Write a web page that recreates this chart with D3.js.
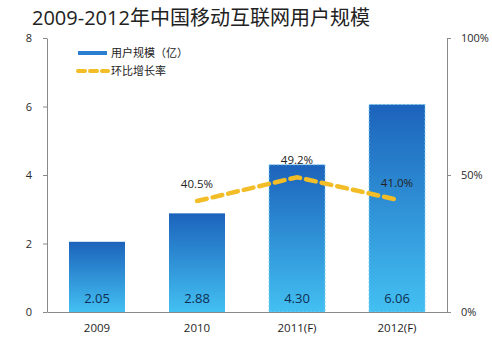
<!DOCTYPE html>
<html>
<head>
<meta charset="utf-8">
<script src="https://d3js.org/d3.v7.min.js"></script>
<style>
  body { margin: 0; background: #fff; }
  text { font-family: "Open Sans", "Noto Sans CJK SC", sans-serif; }
</style>
</head>
<body>
<div id="chart"></div>
<script>
var years = ["2009", "2010", "2011(F)", "2012(F)"];
var users = [2.05, 2.88, 4.30, 6.06];           // 亿
var growth = [null, 40.5, 49.2, 41.0];          // %
var forecast = [false, false, true, true];
var leftTicks = [0, 2, 4, 6, 8];
var rightTicks = [0, 50, 100];

var width = 492, height = 343;
var margin = {top: 38, right: 45, bottom: 31, left: 47};

var svg = d3.select("#chart").append("svg")
    .attr("width", width)
    .attr("height", height);

var defs = svg.append("defs");
var grad = defs.append("linearGradient")
    .attr("id", "barGrad")
    .attr("x1", 0).attr("y1", 0).attr("x2", 0).attr("y2", 1);
grad.append("stop").attr("offset", "0%").attr("stop-color", "#1c63bb");
grad.append("stop").attr("offset", "100%").attr("stop-color", "#43c0f2");

var x = d3.scaleBand()
    .domain(years)
    .range([margin.left, width - margin.right])
    .paddingInner(0.44)
    .paddingOuter(0.22);

var y = d3.scaleLinear().domain([0, 8]).range([height - margin.bottom, margin.top]);
var y2 = d3.scaleLinear().domain([0, 100]).range([height - margin.bottom, margin.top]);

// title
svg.append("text")
    .attr("x", 32).attr("y", 25)
    .attr("font-size", 20)
    .attr("fill", "#222")
    .text("2009-2012年中国移动互联网用户规模");

// bars
svg.selectAll(".bar")
    .data(users)
    .enter().append("rect")
    .attr("class", "bar")
    .attr("x", function(d, i) { return x(years[i]); })
    .attr("y", function(d) { return y(d); })
    .attr("width", x.bandwidth())
    .attr("height", function(d) { return y(0) - y(d); })
    .attr("fill", "url(#barGrad)")
    .attr("stroke", function(d, i) { return forecast[i] ? "#7fd0f5" : "none"; })
    .attr("stroke-width", 1)
    .attr("stroke-dasharray", "2,2");

// values inside bars
svg.selectAll(".val")
    .data(users)
    .enter().append("text")
    .attr("class", "val")
    .attr("x", function(d, i) { return x(years[i]) + x.bandwidth() / 2; })
    .attr("y", y(0) - 9)
    .attr("text-anchor", "middle")
    .attr("font-size", 13)
    .attr("fill", "#0f2f52")
    .text(function(d) { return d.toFixed(2); });

// axes
var axisColor = "#8a8a8a";
var leftAxis = svg.append("g")
    .attr("transform", "translate(" + margin.left + ",0)")
    .call(d3.axisLeft(y).tickValues(leftTicks).tickSize(4).tickPadding(11).tickSizeOuter(0));
var rightAxis = svg.append("g")
    .attr("transform", "translate(" + (width - margin.right) + ",0)")
    .call(d3.axisRight(y2).tickValues(rightTicks).tickSize(4).tickPadding(10).tickSizeOuter(0)
        .tickFormat(function(d) { return d + "%"; }));
var bottomAxis = svg.append("g")
    .attr("transform", "translate(0," + y(0) + ")")
    .call(d3.axisBottom(x).tickSize(0).tickPadding(12));

[leftAxis, rightAxis, bottomAxis].forEach(function(g) {
  g.select(".domain").attr("stroke", axisColor);
  g.selectAll(".tick line").attr("stroke", axisColor);
  g.selectAll("text").attr("fill", "#2a2a2a").attr("font-size", 11)
      .attr("font-family", "Open Sans, sans-serif");
});
bottomAxis.selectAll("text").attr("font-size", 11.5).attr("fill", "#1e1e1e");

// growth line
var pts = growth.map(function(d, i) { return {v: d, i: i}; })
    .filter(function(d) { return d.v !== null; });
var line = d3.line()
    .x(function(d) { return x(years[d.i]) + x.bandwidth() / 2; })
    .y(function(d) { return y2(d.v); });

svg.append("path")
    .datum(pts)
    .attr("d", line)
    .attr("fill", "none")
    .attr("stroke", "#f2bd26")
    .attr("stroke-width", 4.5)
    .attr("stroke-dasharray", "10,6")
    .attr("stroke-linecap", "round");

svg.selectAll(".pct")
    .data(pts)
    .enter().append("text")
    .attr("class", "pct")
    .attr("x", function(d) { return x(years[d.i]) + x.bandwidth() / 2; })
    .attr("y", function(d) { return y2(d.v) - 13; })
    .attr("text-anchor", "middle")
    .attr("font-size", 11.5)
    .attr("fill", "#222")
    .text(function(d) { return d.v.toFixed(1) + "%"; });

// legend
var legend = svg.append("g").attr("transform", "translate(78,0)");
legend.append("line")
    .attr("x1", 0).attr("x2", 29).attr("y1", 53).attr("y2", 53)
    .attr("stroke", "#2a7fd0").attr("stroke-width", 4);
legend.append("text")
    .attr("x", 33).attr("y", 57)
    .attr("font-size", 11).attr("fill", "#222")
    .text("用户规模（亿）");
legend.append("line")
    .attr("x1", 0).attr("x2", 30).attr("y1", 71).attr("y2", 71)
    .attr("stroke", "#f2bd26").attr("stroke-width", 4)
    .attr("stroke-dasharray", "7,5").attr("stroke-linecap", "round");
legend.append("text")
    .attr("x", 33).attr("y", 75)
    .attr("font-size", 11).attr("fill", "#222")
    .text("环比增长率");
</script>
</body>
</html>
